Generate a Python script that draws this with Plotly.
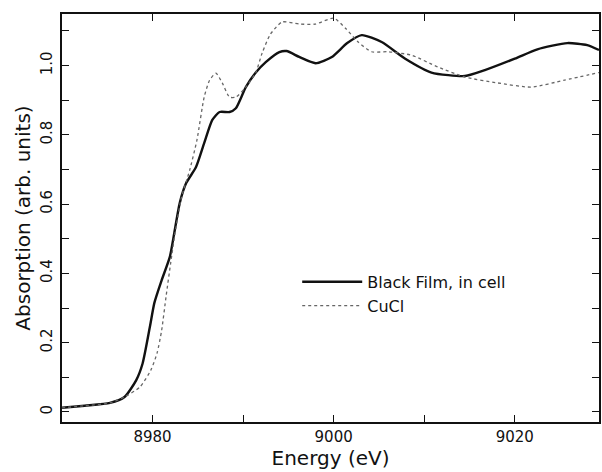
import plotly.graph_objects as go

black_x = [8970.0, 8972.5, 8975.3, 8976.9, 8978.2, 8978.9, 8979.7, 8980.2, 8981.0, 8981.9, 8982.4,
           8983.0, 8983.7, 8984.8, 8985.7, 8986.6, 8987.4, 8988.5, 8989.2, 8990.3, 8991.4,
           8992.5, 8994.0, 8994.8, 8996.2, 8998.0, 8999.8, 9001.5, 9003.1, 9005.3, 9007.9,
           9010.8, 9014.5, 9016.7, 9020.0, 9022.5, 9025.8, 9028.0, 9029.3]
black_y = [0.012, 0.018, 0.026, 0.043, 0.092, 0.14, 0.245, 0.315, 0.38, 0.447, 0.517,
           0.603, 0.66, 0.707, 0.776, 0.843, 0.866, 0.866, 0.877, 0.938, 0.98,
           1.01, 1.039, 1.042, 1.025, 1.007, 1.025, 1.065, 1.088, 1.068, 1.02,
           0.98, 0.97, 0.987, 1.02, 1.047, 1.065, 1.059, 1.045]

cucl_x = [8970.0, 8972.5, 8975.3, 8976.9, 8978.6, 8979.8, 8980.5, 8981.0, 8981.5, 8982.0, 8982.5,
          8983.2, 8984.1, 8984.9, 8985.7, 8986.3, 8987.0, 8987.7, 8988.5, 8989.2, 8990.3, 8991.4,
          8992.1, 8993.0, 8994.3, 8996.2, 8998.0, 9000.0, 9001.3, 9002.7, 9004.2, 9006.0,
          9008.6, 9011.5, 9014.5, 9018.1, 9021.8, 9025.5, 9029.3]
cucl_y = [0.012, 0.018, 0.026, 0.043, 0.072, 0.12, 0.17, 0.235, 0.335, 0.43, 0.52,
          0.62, 0.698, 0.785, 0.909, 0.958, 0.978, 0.95, 0.909, 0.909, 0.938, 0.98,
          1.036, 1.09, 1.126, 1.12, 1.12, 1.137, 1.108, 1.068, 1.04, 1.04,
          1.03, 0.996, 0.967, 0.95, 0.938, 0.958, 0.98]

x_tickvals = [8970, 8980, 8990, 9000, 9010, 9020]
x_ticktext = ["", "8980", "", "9000", "", "9020"]
y_tickvals = [0, 0.1, 0.2, 0.3, 0.4, 0.5, 0.6, 0.7, 0.8, 0.9, 1.0, 1.1]
y_ticktext = ["0", "", "0.2", "", "0.4", "", "0.6", "", "0.8", "", "1.0", ""]

font = "DejaVu Sans, Liberation Sans, Arial, sans-serif"

fig = go.Figure()
fig.add_trace(go.Scatter(x=black_x, y=black_y, mode="lines", name="Black Film, in cell",
                         line=dict(color="#111111", width=2.4, shape="spline", smoothing=0.6)))
fig.add_trace(go.Scatter(x=cucl_x, y=cucl_y, mode="lines", name="CuCl",
                         line=dict(color="#666666", width=1.3, dash="dot", shape="spline", smoothing=0.6)))

fig.update_layout(
    width=602, height=472,
    margin=dict(l=62, r=1, t=14, b=50),
    paper_bgcolor="white", plot_bgcolor="white",
    font=dict(family=font, color="#111111", size=15),
    showlegend=True,
    legend=dict(x=0.438, y=0.385, xanchor="left", yanchor="top", bgcolor="rgba(0,0,0,0)",
                font=dict(size=16, family=font), tracegroupgap=0, itemwidth=60),
    xaxis=dict(range=[8970, 9029.3], tickvals=x_tickvals, ticktext=x_ticktext,
               ticks="inside", ticklen=7, tickwidth=1.2, tickcolor="#111111",
               showline=True, linecolor="#111111", linewidth=2, mirror="ticks",
               showgrid=False, zeroline=False,
               title=dict(text="Energy (eV)", font=dict(size=20), standoff=4),
               tickfont=dict(size=15)),
    yaxis=dict(range=[-0.029, 1.149], tickvals=y_tickvals, ticktext=y_ticktext,
               ticks="inside", ticklen=7, tickwidth=1.2, tickcolor="#111111",
               showline=True, linecolor="#111111", linewidth=2, mirror="ticks",
               showgrid=False, zeroline=False, tickangle=-90, ticklabelstandoff=2,
               title=dict(text="Absorption (arb. units)", font=dict(size=20), standoff=2),
               tickfont=dict(size=15)),
)

fig.write_html("out.html")
